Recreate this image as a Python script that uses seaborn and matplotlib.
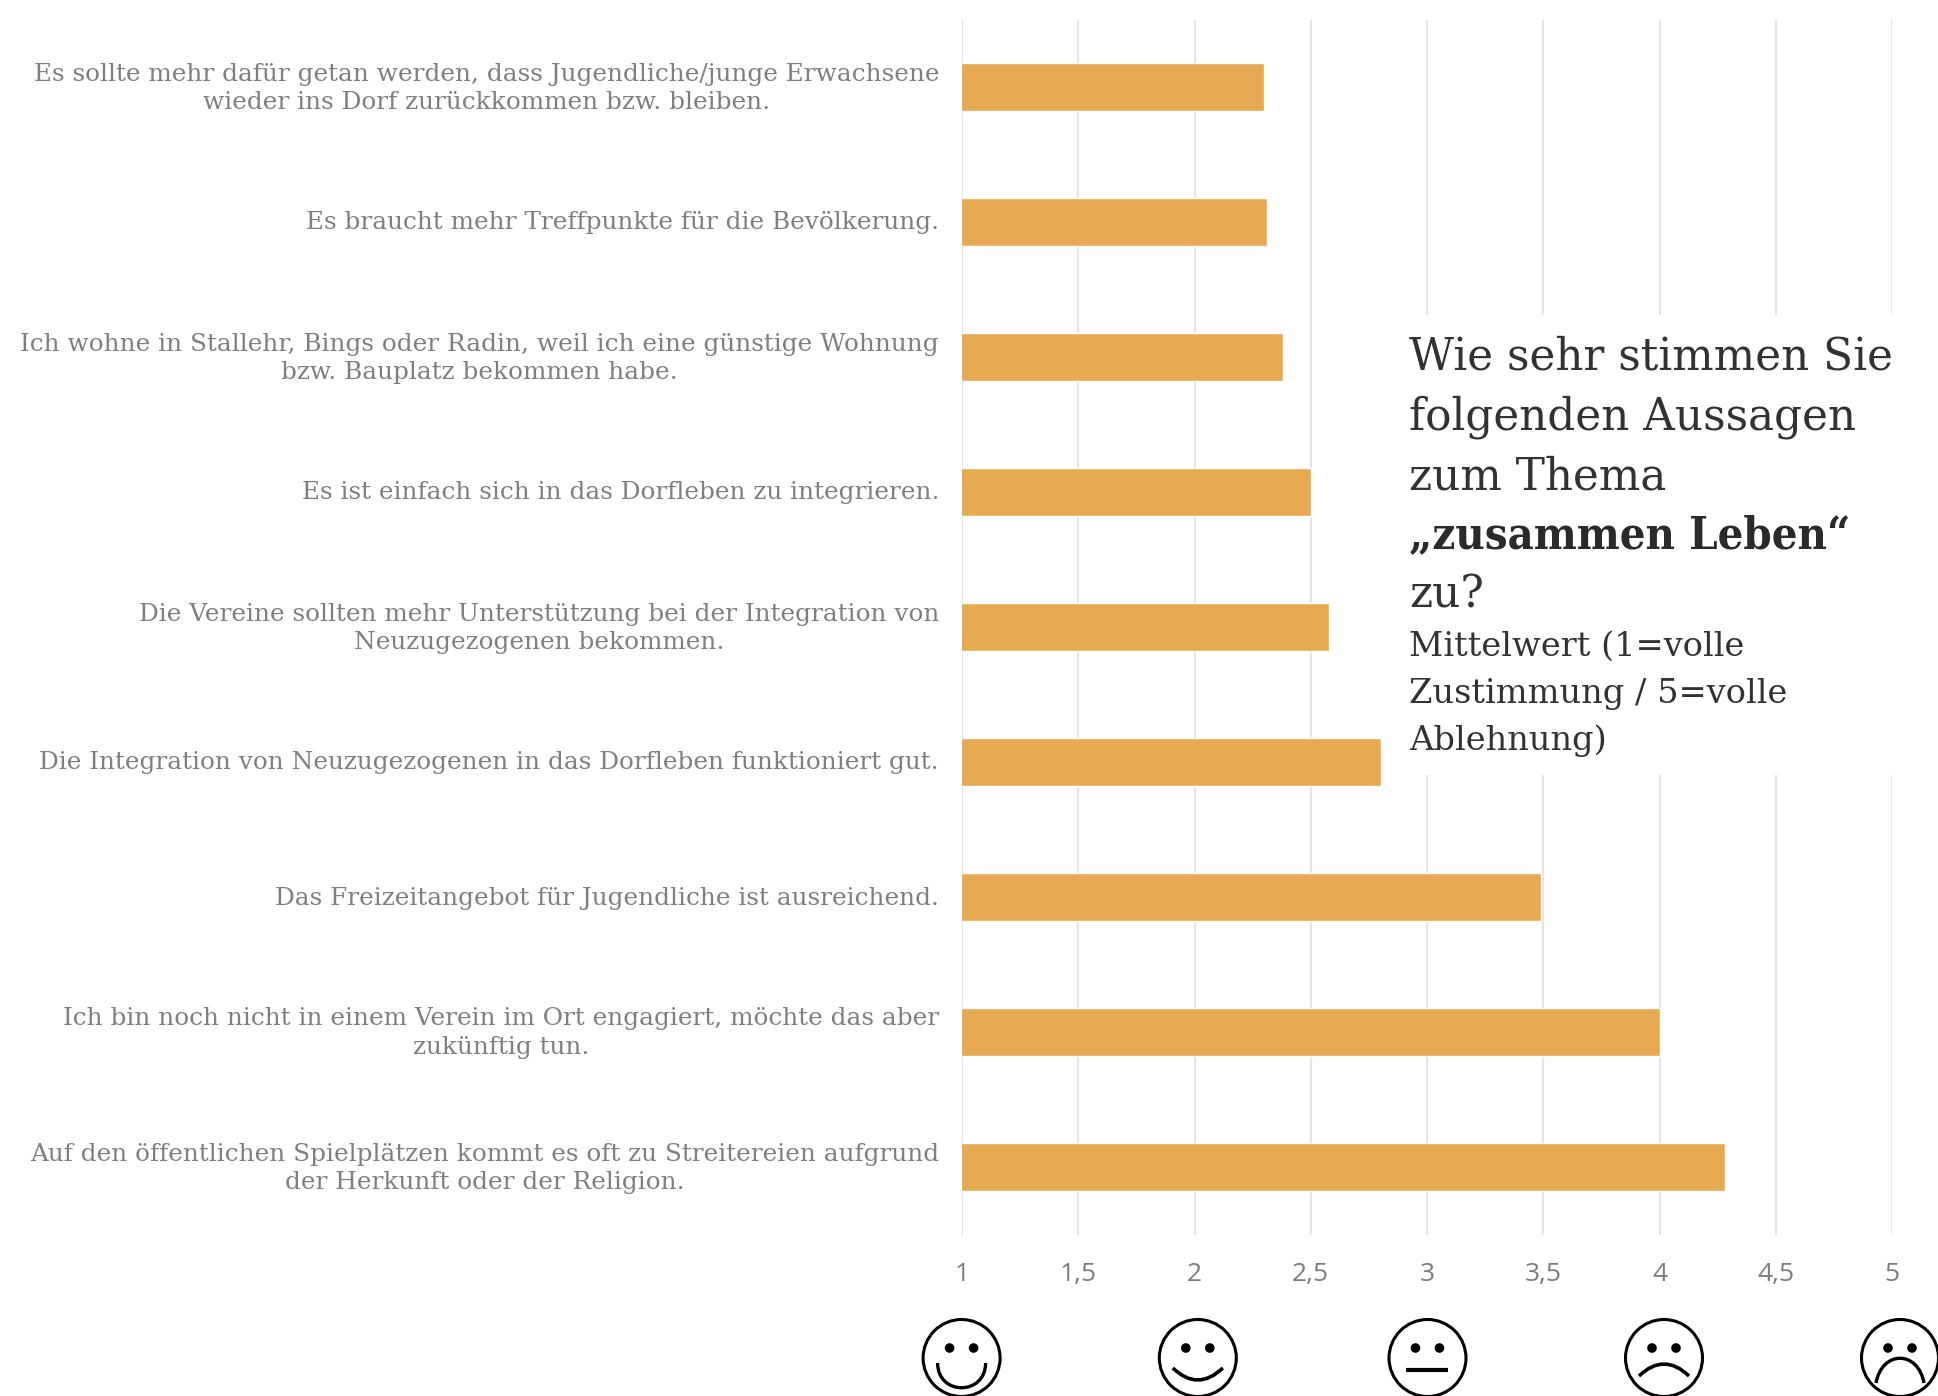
import matplotlib
matplotlib.use("Agg")
import matplotlib.pyplot as plt
import seaborn as sns
import pandas as pd
from matplotlib.patches import Circle, Rectangle, PathPatch
from matplotlib.path import Path
from matplotlib.transforms import ScaledTranslation

statements = [
    "Es sollte mehr dafür getan werden, dass Jugendliche/junge Erwachsene\nwieder ins Dorf zurückkommen bzw. bleiben.",
    "Es braucht mehr Treffpunkte für die Bevölkerung.",
    "Ich wohne in Stallehr, Bings oder Radin, weil ich eine günstige Wohnung\nbzw. Bauplatz bekommen habe.",
    "Es ist einfach sich in das Dorfleben zu integrieren.",
    "Die Vereine sollten mehr Unterstützung bei der Integration von\nNeuzugezogenen bekommen.",
    "Die Integration von Neuzugezogenen in das Dorfleben funktioniert gut.",
    "Das Freizeitangebot für Jugendliche ist ausreichend.",
    "Ich bin noch nicht in einem Verein im Ort engagiert, möchte das aber\nzukünftig tun.",
    "Auf den öffentlichen Spielplätzen kommt es oft zu Streitereien aufgrund\nder Herkunft oder der Religion.",
]
means = [2.30, 2.31, 2.38, 2.50, 2.58, 2.80, 3.49, 4.00, 4.28]
x_ticks = [1, 1.5, 2, 2.5, 3, 3.5, 4, 4.5, 5]
x_tick_labels = ["1", "1,5", "2", "2,5", "3", "3,5", "4", "4,5", "5"]
title_lines = ["Wie sehr stimmen Sie", "folgenden Aussagen", "zum Thema", "„zusammen Leben“", "zu?"]
sub_lines = ["Mittelwert (1=volle", "Zustimmung / 5=volle", "Ablehnung)"]

W, H = 1938, 1396
sns.set_theme(style="white")
fig = plt.figure(figsize=(W / 100, H / 100), dpi=100, facecolor="white")
L, R, T, B = 962, 1892, 19.5, 1234.5
ax = fig.add_axes([L / W, 1 - B / H, (R - L) / W, (B - T) / H])

df = pd.DataFrame({"statement": statements, "mean": means})
sns.barplot(data=df, y="statement", x="mean", color="#E7AA52", saturation=1, width=0.357, ax=ax)
ax.set_xlim(1, 5)
ax.set_ylim(8.5, -0.5)
ax.set_xlabel("")
ax.set_ylabel("")
for s in ax.spines.values():
    s.set_visible(False)
ax.set_axisbelow(True)
ax.xaxis.grid(True, color="#e5e5e5", linewidth=1.5)
ax.set_xticks(x_ticks)
ax.set_xticklabels(x_tick_labels, fontfamily="Open Sans", fontsize=19, color="#7c7c7c")
ax.tick_params(axis="x", length=0, pad=20)
ax.tick_params(axis="y", length=0, pad=16.5)
for lab in ax.get_yticklabels():
    lab.set_fontfamily("DejaVu Serif")
    lab.set_fontsize(17.85)
    lab.set_color("#7f7f7f")
    lab.set_multialignment("center")
    lab.set_linespacing(1.33)
    lift = 4.0 if "\n" in lab.get_text() else 1.5
    lab.set_transform(lab.get_transform() + ScaledTranslation(0, lift / 100, fig.dpi_scale_trans))

ov = fig.add_axes([0, 0, 1, 1], facecolor="none")
ov.set_xlim(0, W)
ov.set_ylim(H, 0)
ov.axis("off")
ov.add_patch(Rectangle((1385, 315), W - 1385, 460, facecolor="white", edgecolor="none"))

for line, y in zip(title_lines, [369.5, 429.5, 489, 548, 608]):
    if line.startswith("„"):
        ov.text(1409, y, line, family="DejaVu Serif", stretch="condensed", fontsize=32.5,
                color="#2b2a29", va="baseline", ha="left", fontweight="bold")
    else:
        ov.text(1409, y, line, family="DejaVu Serif", fontsize=31.5,
                color="#333231", va="baseline", ha="left")
for line, y in zip(sub_lines, [656, 703, 750]):
    ov.text(1409, y, line, family="DejaVu Serif", fontsize=24.2,
            color="#333231", va="baseline", ha="left")

face_x = [961.6, 1197.8, 1427.5, 1664, 1900]
face_y = 1358
lw = 2.2
for fx in face_x:
    ov.add_patch(Circle((fx, face_y), 38.5, fill=False, edgecolor="black", linewidth=lw, clip_on=False))
    for dx in (-12, 12):
        ov.add_patch(Circle((fx + dx, 1348), 4.8, facecolor="black", edgecolor="none"))

def mouth(verts, codes, width=2.2):
    ov.add_patch(PathPatch(Path(verts, codes), fill=False, edgecolor="black", linewidth=width, capstyle="butt"))

C4 = [Path.MOVETO, Path.CURVE4, Path.CURVE4, Path.CURVE4]
C3 = [Path.MOVETO, Path.CURVE3, Path.CURVE3]
f = face_x
mouth([(f[0] - 24, 1363), (f[0] - 24, 1396), (f[0] + 24, 1396), (f[0] + 24, 1363)], C4, 2.4)
mouth([(f[1] - 25, 1368), (f[1], 1392), (f[1] + 25, 1368)], C3, 2.6)
mouth([(f[2] - 21, 1370), (f[2] + 21, 1370)], [Path.MOVETO, Path.LINETO], 3)
mouth([(f[3] - 25, 1376), (f[3], 1352), (f[3] + 25, 1376)], C3, 2.6)
mouth([(f[4] - 24, 1383), (f[4] - 18, 1350), (f[4] + 18, 1350), (f[4] + 24, 1383)], C4, 2.4)

fig.savefig("out.png", dpi=100, facecolor="white")
